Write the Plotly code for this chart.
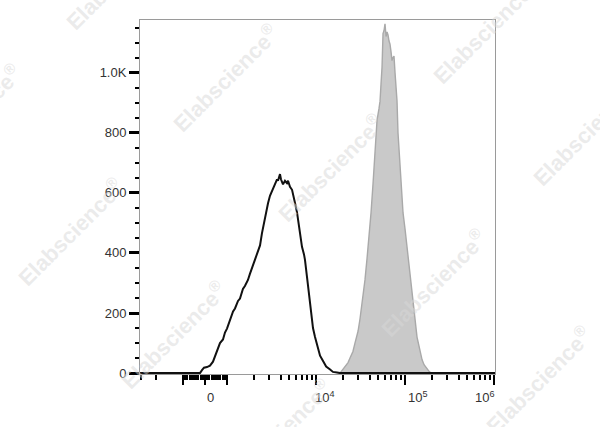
import numpy as np
import plotly.graph_objects as go

# ---------------- data (fluorescence intensity, event counts) ----------------
black_x = [-3500, -227, -136, -45, 91, 227, 364, 455, 591, 682, 818, 909, 1000,
           1080, 1170, 1230, 1330, 1400, 1510, 1590, 1720, 1810, 1960, 2060, 2230,
           2350, 2470, 2670, 2890, 3040, 3290, 3460, 3650, 3740, 3940, 4040, 4260,
           4480, 4720, 4850, 5100, 5380, 5660, 5810, 6120, 6280, 6610, 6960, 7330,
           7520, 7920, 8130, 8560, 9020, 9250, 9750, 10500, 11100, 12000, 13000,
           14400, 15500, 17200, 18600, 1100000]
black_y = [0, 0, 10, 18, 20, 25, 38, 55, 80, 100, 112, 135, 148,
           175, 205, 215, 240, 248, 280, 290, 310, 330, 360, 375, 410,
           425, 465, 520, 565, 590, 612, 630, 645, 640, 662, 645, 628,
           640, 632, 640, 620, 610, 585, 566, 535, 512, 470, 420, 395,
           377, 320, 290, 228, 190, 150, 120, 80, 58, 40, 22,
           12, 4, 2, 0, 0]

gray_x = [18600, 19600, 21200, 22900, 24100, 26000, 27400, 29700, 31200, 33700,
          35500, 37400, 38400, 40400, 41500, 43700, 46000, 48500, 51000, 52400,
          53700, 55200, 56600, 58100, 59600, 61200, 62800, 64400, 66100, 67800,
          69600, 71400, 73300, 75200, 77200, 79200, 81300, 83400, 85600, 87900,
          90200, 92500, 95000, 100000, 105300, 113800, 119900, 129500, 136400,
          147400, 155200, 163500, 167800, 176700, 186100, 196000]
gray_y = [0, 8, 20, 35, 50, 72, 100, 140, 180, 255,
          310, 380, 420, 480, 533, 630, 740, 842, 880, 905,
          960, 1019, 1130, 1140, 1162, 1120, 1135, 1125, 1105, 1095,
          1070, 1040, 1050, 1055, 1000, 950, 905, 800, 750, 705,
          660, 610, 533, 480, 420, 320, 260, 185, 120,
          75, 45, 28, 22, 15, 6, 0]

x_major = [-1000, 0, 1000, 1e4, 1e5, 1e6]
x_minor = ([-3000, -2000] + [-v for v in range(100, 1000, 100)] + list(range(100, 1000, 100))
           + list(range(2000, 10000, 1000)) + list(range(20000, 100000, 10000))
           + list(range(200000, 1000000, 100000)))
x_label_vals = [0, 1e4, 1e5, 1e6]
x_label_text = ["0", "10<sup>4</sup>", "10<sup>5</sup>", "10<sup>6</sup>"]

y_ticks = [0, 200, 400, 600, 800, 1000]
y_ticktext = ["0", "200", "400", "600", "800", "1.0K"]

watermark_text = "Elabscience<sup>®</sup>"

# ---------------- biexponential-like display transform ----------------
LIN = 1000.0
W = 22.0 / 89.0


def biex(v):
    v = np.asarray(v, dtype=float)
    a = np.abs(v)
    return np.where(a <= LIN, v / LIN * W,
                    np.sign(v) * (W + np.log10(np.maximum(a, LIN) / LIN)))


fig = go.Figure()
fig.add_trace(go.Scatter(x=biex(gray_x), y=gray_y, mode="lines", fill="tozeroy",
                         fillcolor="#c9c9c9", line=dict(color="#a9a9a9", width=1.4),
                         hoverinfo="skip", showlegend=False))
fig.add_trace(go.Scatter(x=biex(black_x), y=black_y, mode="lines",
                         line=dict(color="#111111", width=2),
                         hoverinfo="skip", showlegend=False))

L_M, R_M, T_M, B_M = 140, 105, 20, 53
PW, PH = 600 - L_M - R_M, 427 - T_M - B_M

fig.update_layout(
    width=600, height=427,
    margin=dict(l=L_M, r=R_M, t=T_M, b=B_M, pad=0),
    paper_bgcolor="white", plot_bgcolor="white",
    font=dict(family="Arial, Liberation Sans, sans-serif", size=13, color="#333"),
    showlegend=False,
)
fig.update_xaxes(
    range=[-0.73, 3.258], showgrid=False, zeroline=False,
    showline=True, linecolor="#9a9a9a", linewidth=1, mirror=True,
    tickmode="array", tickvals=biex(x_major),
    ticks="outside", ticklen=10, tickwidth=2.5, tickcolor="black",
    showticklabels=False,
    minor=dict(tickmode="array", tickvals=biex(x_minor), ticks="outside",
               ticklen=5, tickwidth=2, tickcolor="black", showgrid=False),
)
fig.update_yaxes(
    range=[-3, 1175], showgrid=False, zeroline=False,
    showline=True, linecolor="#9a9a9a", linewidth=1, mirror=True,
    tickmode="array", tickvals=y_ticks, ticktext=y_ticktext,
    ticks="outside", ticklen=10, tickwidth=3, tickcolor="black",
    minor=dict(tickmode="linear", tick0=0, dtick=50, ticks="outside",
               ticklen=4, tickwidth=2, tickcolor="black", showgrid=False),
    tickfont=dict(size=13, color="#333"),
)

# x tick labels (placed slightly offset from ticks as in the original)
shifts = [6, 9, 13, -9]
for v, t, s in zip(x_label_vals, x_label_text, shifts):
    fig.add_annotation(x=float(biex(v)), y=-0.093, xref="x", yref="paper",
                       text=t, showarrow=False, xanchor="center", yanchor="bottom",
                       xshift=s, font=dict(size=13, color="#333"))

# watermark
wm_centers = [(118, -24), (225, 78), (485, 30), (-32, 118), (330, 168), (585, 132),
              (70, 232), (433, 283), (173, 335), (538, 380), (278, 433)]
for cx, cy in wm_centers:
    fig.add_annotation(x=(cx - L_M) / PW, y=(427 - B_M - cy) / PH,
                       xref="paper", yref="paper", text=watermark_text,
                       showarrow=False, textangle=-45, xanchor="center", yanchor="middle",
                       font=dict(size=22, color="rgba(215,215,215,0.5)",
                                 family="Arial, Liberation Sans, sans-serif", weight="bold"))

fig.write_html("out.html", config={"displayModeBar": False, "staticPlot": True},
               post_script="document.body.style.margin='0';document.body.style.overflow='hidden';")
